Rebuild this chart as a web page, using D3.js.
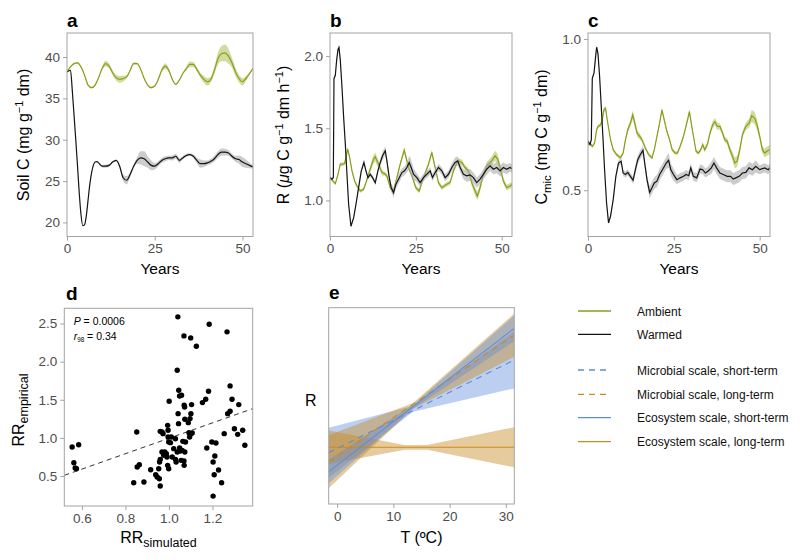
<!DOCTYPE html>
<html><head><meta charset="utf-8">
<script src="https://cdn.jsdelivr.net/npm/d3@7"></script>
<style>body{margin:0;background:#fff}</style>
</head><body>
<svg id="c" width="800" height="560" xmlns="http://www.w3.org/2000/svg"></svg>
<script>
// ---------- DATA ----------
// Panel a: Soil C
const yearsA = [0,1,2,3,4,5,6,7,8,9,10,11,12,13,14,15,16,17,18,19,20,21,22,23,24,25,26,27,28,29,30,31,32,33,34,35,36,37,38,39,40,41,42,43,44,45,46,47,48,49,50,51,52,53];
const ambientA = [38.2,38.8,39.2,39.3,38.8,37.8,36.6,36.3,36.6,37.5,38.6,39.2,38.9,38.1,37.5,37.3,37.4,37.6,38.4,39.2,39.2,38.5,37.4,36.6,36.3,36.5,37.3,38.4,38.9,38.4,37.3,36.7,37.2,38.0,38.6,39.1,39.1,38.5,37.8,37.3,37.0,37.3,38.4,39.8,40.4,40.5,40.1,39.3,38.2,37.4,37.0,37.4,38.0,38.6];
const ambientBandA = [0.1,0.1,0.1,0.1,0.1,0.1,0.1,0.1,0.1,0.1,0.2,0.35,0.3,0.3,0.35,0.4,0.35,0.2,0.1,0.15,0.1,0.1,0.1,0.1,0.1,0.1,0.1,0.25,0.35,0.25,0.15,0.1,0.1,0.1,0.2,0.35,0.3,0.25,0.3,0.4,0.45,0.35,0.4,0.7,0.9,1.0,0.9,0.6,0.5,0.45,0.45,0.3,0.15,0.1];
const warmedYearsA = [0,1,1.5,2,2.5,3,3.5,4,4.5,5,5.5,6,6.5,7,7.5,8,8.5,9,10,11,12,13,14,15,16,17,18,19,20,21,22,23,24,25,26,27,28,29,30,31,32,33,34,35,36,37,38,39,40,41,42,43,44,45,46,47,48,49,50,51,52,53];
const warmedA = [38.2,38.4,36.0,33.0,30.0,26.8,23.5,20.9,19.6,19.7,20.8,22.7,24.6,26.0,26.9,27.3,27.35,27.2,26.8,26.8,26.9,27.3,27.5,26.8,25.4,25.1,25.8,26.8,27.5,27.8,27.7,27.3,26.9,26.8,27.1,27.5,27.7,27.8,27.8,28.0,27.5,27.8,28.1,28.2,28.0,27.5,27.1,27.1,27.2,27.4,27.7,28.2,28.5,28.5,28.4,28.0,27.7,27.6,27.3,27.1,26.9,26.7];
const warmedBandA = [0.05,0.05,0.05,0.05,0.05,0.05,0.05,0.05,0.05,0.05,0.05,0.05,0.05,0.05,0.05,0.05,0.05,0.05,0.15,0.2,0.15,0.1,0.1,0.2,0.4,0.5,0.3,0.2,0.4,0.8,0.9,0.7,0.6,0.4,0.3,0.3,0.3,0.25,0.3,0.3,0.3,0.2,0.2,0.15,0.2,0.35,0.5,0.4,0.3,0.3,0.35,0.4,0.45,0.4,0.35,0.3,0.35,0.5,0.6,0.5,0.35,0.2];

// Panel b: R
const ambientYearsB = [0,0.78,1.55,2.33,3.0,3.68,4.26,5.14,5.72,6.4,7.17,7.85,8.82,9.79,10.47,11.24,12.02,12.69,13.18,13.66,14.15,15.12,15.89,16.57,17.54,18.5,19.48,20.45,21.61,22.87,24.03,25.0,25.97,27.23,28.68,29.65,30.62,31.59,32.56,34.01,34.98,35.95,37.21,38.37,39.34,40.31,41.28,42.25,42.93,43.7,44.67,45.64,47.09,48.06,48.84,49.52,50.48,51.45,52.42,53];
const ambientB = [1.158,1.135,1.116,1.181,1.251,1.251,1.256,1.356,1.298,1.205,1.135,1.100,1.065,1.077,1.123,1.181,1.240,1.286,1.302,1.274,1.251,1.193,1.186,1.170,1.088,1.065,1.158,1.251,1.349,1.228,1.158,1.088,1.065,1.158,1.251,1.333,1.228,1.123,1.088,1.112,1.123,1.205,1.274,1.263,1.228,1.205,1.123,1.065,1.030,1.088,1.181,1.240,1.274,1.309,1.286,1.228,1.135,1.088,1.100,1.110];
const ambientBandB = [0.01,0.01,0.01,0.01,0.012,0.012,0.012,0.015,0.012,0.012,0.012,0.012,0.012,0.012,0.015,0.02,0.025,0.03,0.03,0.03,0.025,0.02,0.015,0.015,0.015,0.015,0.015,0.015,0.02,0.015,0.015,0.015,0.015,0.015,0.015,0.02,0.015,0.015,0.015,0.015,0.015,0.015,0.02,0.02,0.015,0.02,0.025,0.03,0.03,0.025,0.02,0.025,0.03,0.035,0.035,0.025,0.02,0.02,0.02,0.02];
const warmedYearsB = [0,0.58,0.97,1.16,1.55,1.94,2.33,2.62,3.0,3.49,3.97,4.46,4.94,5.43,6.10,6.88,7.56,8.33,9.11,9.88,10.47,11.05,11.72,12.4,13.18,13.95,14.63,15.31,16.09,16.57,17.25,17.83,18.5,19.19,19.96,20.93,21.7,22.38,23.06,23.64,24.32,25.29,26.26,27.23,28.2,29.17,29.84,30.62,31.59,32.56,33.53,34.5,35.47,36.43,37.2,37.89,38.86,39.83,40.79,41.76,42.73,43.7,44.67,45.64,46.61,47.58,48.55,49.52,50.48,51.45,52.42,53];
const warmedB = [1.158,1.147,1.158,1.844,1.867,1.972,2.047,2.06,1.972,1.786,1.577,1.391,1.181,0.972,0.821,0.879,0.972,1.088,1.205,1.263,1.205,1.158,1.181,1.158,1.123,1.205,1.263,1.309,1.344,1.274,1.158,1.088,1.053,1.112,1.147,1.193,1.205,1.228,1.263,1.228,1.181,1.158,1.123,1.158,1.181,1.205,1.158,1.193,1.228,1.205,1.158,1.181,1.228,1.263,1.274,1.228,1.181,1.170,1.177,1.158,1.123,1.147,1.181,1.216,1.240,1.216,1.228,1.205,1.228,1.216,1.228,1.22];
const warmedBandB = [0.008,0.008,0.008,0.01,0.01,0.015,0.02,0.02,0.015,0.01,0.01,0.01,0.01,0.01,0.01,0.01,0.01,0.015,0.015,0.02,0.015,0.015,0.015,0.015,0.015,0.02,0.025,0.03,0.03,0.025,0.025,0.03,0.035,0.03,0.03,0.03,0.03,0.035,0.045,0.055,0.04,0.03,0.03,0.025,0.025,0.025,0.025,0.025,0.025,0.025,0.025,0.025,0.03,0.035,0.03,0.03,0.035,0.04,0.04,0.035,0.035,0.035,0.035,0.04,0.035,0.035,0.04,0.04,0.035,0.035,0.03,0.03];

// Panel c: Cmic
const ambientYearsC = [0,0.58,1.25,1.93,2.51,2.90,3.67,4.15,4.63,5.12,5.60,6.08,6.56,7.34,8.30,9.46,10.23,10.91,11.58,12.36,13.03,13.51,14.29,15.06,15.73,16.70,17.66,18.63,19.31,20.08,20.85,21.53,22.2,22.97,23.75,24.52,25.39,26.06,26.83,27.8,28.76,29.54,30.21,30.89,31.47,32.14,32.82,33.40,33.98,34.75,35.52,36.29,36.97,37.64,38.42,39.19,39.86,40.54,41.31,42.08,42.76,43.44,44.21,44.98,45.95,46.91,47.68,48.55,49.23,50.0,50.77,51.45,52.12,53];
const ambientC = [0.651,0.656,0.645,0.656,0.700,0.711,0.716,0.733,0.766,0.771,0.733,0.700,0.667,0.634,0.618,0.607,0.623,0.667,0.700,0.722,0.749,0.727,0.689,0.678,0.667,0.640,0.618,0.607,0.634,0.678,0.722,0.766,0.733,0.695,0.667,0.634,0.623,0.623,0.645,0.678,0.722,0.760,0.711,0.667,0.629,0.623,0.634,0.651,0.634,0.651,0.689,0.716,0.727,0.711,0.711,0.689,0.667,0.662,0.634,0.612,0.590,0.596,0.634,0.684,0.711,0.722,0.746,0.738,0.716,0.678,0.634,0.623,0.629,0.635];
const ambientBandC = [0.005,0.005,0.005,0.005,0.006,0.006,0.006,0.008,0.008,0.008,0.006,0.006,0.006,0.006,0.006,0.006,0.006,0.008,0.01,0.012,0.015,0.015,0.012,0.01,0.008,0.006,0.006,0.006,0.006,0.006,0.008,0.008,0.008,0.006,0.006,0.006,0.006,0.006,0.006,0.008,0.008,0.01,0.008,0.006,0.006,0.006,0.006,0.008,0.008,0.008,0.01,0.012,0.012,0.012,0.01,0.01,0.01,0.01,0.012,0.015,0.018,0.018,0.012,0.01,0.012,0.015,0.02,0.02,0.018,0.012,0.012,0.015,0.015,0.015];
const warmedYearsC = [0,0.58,0.97,1.25,1.74,2.22,2.51,2.90,3.38,3.86,4.34,4.83,5.41,5.98,6.56,7.34,8.11,8.88,9.65,10.23,10.91,11.58,12.36,13.13,13.80,14.48,15.25,16.02,16.51,17.18,17.95,18.63,19.31,20.08,20.85,21.81,22.78,23.46,24.13,24.90,25.87,26.83,27.80,28.57,29.34,29.92,30.69,31.66,32.63,33.40,34.17,34.94,35.91,36.68,37.45,38.42,39.38,40.54,41.51,42.28,43.05,44.02,44.98,45.95,46.91,47.88,48.84,50.0,51.45,52.5,53];
const warmedC = [0.662,0.651,0.667,0.870,0.887,0.942,0.973,0.953,0.876,0.777,0.678,0.568,0.458,0.392,0.414,0.469,0.546,0.590,0.596,0.557,0.552,0.559,0.546,0.533,0.568,0.601,0.618,0.632,0.590,0.535,0.493,0.508,0.524,0.530,0.552,0.570,0.590,0.599,0.568,0.552,0.535,0.541,0.546,0.552,0.548,0.574,0.546,0.541,0.570,0.568,0.557,0.563,0.574,0.590,0.574,0.557,0.552,0.546,0.546,0.537,0.541,0.546,0.557,0.559,0.574,0.568,0.579,0.568,0.574,0.568,0.575];
const warmedBandC = [0.005,0.005,0.005,0.006,0.006,0.008,0.01,0.008,0.006,0.005,0.005,0.005,0.005,0.005,0.005,0.006,0.008,0.01,0.01,0.01,0.01,0.01,0.01,0.012,0.015,0.015,0.015,0.015,0.015,0.015,0.02,0.02,0.02,0.02,0.02,0.02,0.02,0.025,0.02,0.02,0.015,0.015,0.015,0.015,0.015,0.015,0.015,0.015,0.015,0.015,0.015,0.015,0.02,0.02,0.02,0.02,0.02,0.02,0.02,0.02,0.02,0.02,0.02,0.02,0.02,0.02,0.02,0.015,0.015,0.015,0.015];

// Panel d: scatter
const simX = [0.555,0.585,0.563,0.569,0.575,0.852,0.854,0.864,0.838,0.885,0.916,0.939,0.946,0.956,0.960,0.953,0.957,0.960,0.968,0.973,0.960,0.981,0.968,0.976,0.988,0.994,0.996,0.996,0.999,1.007,1.011,1.001,0.991,0.994,0.999,1.015,1.022,1.030,1.033,1.030,1.038,1.044,1.049,1.052,1.056,1.061,1.069,1.070,1.073,1.064,1.076,1.042,1.045,1.049,1.058,1.038,1.041,1.069,1.100,1.126,1.070,1.072,1.073,1.089,1.097,1.101,1.104,1.092,1.100,1.107,1.095,1.185,1.267,1.154,1.169,1.182,1.281,1.290,1.270,1.281,1.321,1.301,1.316,1.339,1.349,1.174,1.197,1.216,1.203,1.211,1.208,1.228,1.242,1.203,1.254];
const empY = [0.881,0.911,0.675,0.605,0.596,1.078,0.618,0.649,0.412,0.421,0.583,0.517,0.487,0.465,0.369,0.596,0.684,1.086,1.078,1.056,0.719,0.815,0.815,0.771,0.793,1.165,1.100,1.012,0.946,0.938,1.012,1.480,0.749,0.640,0.596,0.749,0.859,0.719,0.684,0.990,0.815,1.187,0.868,0.828,0.706,0.837,0.697,0.640,0.815,0.955,0.946,1.318,1.625,1.550,1.559,1.887,2.588,2.338,2.312,2.202,1.428,1.406,1.244,1.200,1.253,1.318,1.437,1.069,1.051,1.065,1.012,2.491,2.391,1.463,1.507,1.612,1.682,1.507,1.318,1.349,1.437,1.121,1.047,1.100,0.903,0.868,0.946,0.933,0.684,0.763,0.517,0.579,0.412,0.237,1.056];
const regIntercept = -0.015, regSlope = 1.01;

// Panel e: temperature response (relative R units)
const tempEnds = [-1.5, 31.5];
const microShortLine = [2.61, 7.34];
const microLongLine = [2.15, 8.61];
const ecoShortLine = [1.65, 8.95];
const ecoLongLine = [2.89, 2.89];
const bandT3 = [-1.5, 13.5, 31.5];
const microShortLo = [1.33, 4.70, 5.89], microShortHi = [3.89, 5.00, 8.79];
const microLongLo = [0.80, 4.85, 7.50], microLongHi = [3.50, 5.15, 9.71];
const ecoShortLo = [1.05, 4.85, 8.30], ecoShortHi = [2.25, 5.05, 9.60];
const ecoLongT = [-1.5, 12, 16, 31.5];
const ecoLongLo = [2.04, 2.77, 2.77, 1.87], ecoLongHi = [3.74, 3.01, 3.01, 3.91];

const legendLabels = ["Ambient","Warmed","Microbial scale, short-term","Microbial scale, long-term","Ecosystem scale, short-term","Ecosystem scale, long-term"];

// ---------- STYLE ----------
const FONT = "Arial, 'Liberation Sans', Helvetica, sans-serif";
const TICK_COL = "#4d4d4d", BOX_COL = "#a3a3a3";
const GREEN = "#8a9e1c", GREEN_BAND = "rgba(150,178,40,0.45)";
const BLACK = "#141414", GREY_BAND = "rgba(170,170,170,0.6)";
const BLUE = "#5a8ce0", ORANGE = "#cf8a18";
const BLUE_BAND = "rgba(95,140,222,0.42)", ORANGE_BAND = "rgba(200,140,40,0.45)";

const svg = d3.select("#c").attr("font-family", FONT);

function styleAxis(ax) {
  ax.attr("font-family", FONT).attr("font-size", 13.5);
  ax.select(".domain").remove();
  ax.selectAll(".tick line").attr("stroke", BOX_COL);
  ax.selectAll(".tick text").attr("fill", TICK_COL);
}

function panel(o) {
  const x = d3.scaleLinear().domain(o.xd).range([o.x0, o.x1]);
  const y = d3.scaleLinear().domain(o.yd).range([o.y1, o.y0]);
  const g = svg.append("g");
  const cid = "clip_" + o.name;
  svg.append("clipPath").attr("id", cid).append("rect")
    .attr("x", o.x0).attr("y", o.y0).attr("width", o.x1 - o.x0).attr("height", o.y1 - o.y0);
  const plot = g.append("g").attr("clip-path", `url(#${cid})`);
  if (o.yt) {
    const ax = g.append("g").attr("transform", `translate(${o.x0},0)`)
      .call(d3.axisLeft(y).tickValues(o.yt).tickFormat(o.yf).tickSize(4).tickPadding(3));
    styleAxis(ax);
  }
  const bx = g.append("g").attr("transform", `translate(0,${o.y1})`)
    .call(d3.axisBottom(x).tickValues(o.xt).tickFormat(o.xf).tickSize(4).tickPadding(3));
  styleAxis(bx);
  g.append("rect").attr("x", o.x0).attr("y", o.y0).attr("width", o.x1 - o.x0).attr("height", o.y1 - o.y0)
    .attr("fill", "none").attr("stroke", BOX_COL).attr("stroke-width", 1);
  g.append("text").attr("x", o.tx).attr("y", o.ty).attr("font-size", 19).attr("font-weight", "bold")
    .attr("fill", "#000").text(o.name);
  return { x, y, plot, g };
}

function rich(t, parts, base) {
  let cur = 0;
  parts.forEach(p => {
    const s = t.append("tspan").text(p[0]);
    const k = p[1] || "";
    let off = 0;
    if (k.includes("sup")) { off = -base * 0.4; s.attr("font-size", base * 0.68); }
    if (k.includes("sub")) { off = base * 0.28; s.attr("font-size", base * (p[2] || 0.75)); }
    if (k.includes("it")) s.attr("font-style", "italic");
    if (off !== cur) s.attr("dy", off - cur);
    cur = off;
  });
}

function yLabel(x, y, parts, size) {
  const t = svg.append("text").attr("transform", `translate(${x},${y}) rotate(-90)`)
    .attr("text-anchor", "middle").attr("font-size", size).attr("fill", "#000");
  rich(t, parts, size);
}
function xLabel(x, y, parts, size) {
  const t = svg.append("text").attr("x", x).attr("y", y)
    .attr("text-anchor", "middle").attr("font-size", size).attr("fill", "#000");
  rich(t, parts, size);
}

function zipSeries(ts, vs, bs) { return ts.map((t, i) => ({ t, v: vs[i], s: bs ? bs[i] : 0 })); }

function drawSeries(P, data, col, band, curve) {
  const area = d3.area().x(d => P.x(d.t)).y0(d => P.y(d.v - d.s)).y1(d => P.y(d.v + d.s)).curve(curve);
  const line = d3.line().x(d => P.x(d.t)).y(d => P.y(d.v)).curve(curve);
  P.plot.append("path").datum(data).attr("d", area).attr("fill", band).attr("stroke", "none");
  P.plot.append("path").datum(data).attr("d", line).attr("fill", "none").attr("stroke", col).attr("stroke-width", 1.2);
}

const fmt1 = d3.format(".1f"), fmt0 = d3.format("d");

// ---------- Panel a ----------
const A = panel({ name: "a", x0: 67, x1: 253, y0: 33, y1: 236.5, xd: [0, 53], yd: [18.3, 42.9],
  xt: [0, 25, 50], xf: fmt0, yt: [20, 25, 30, 35, 40], yf: fmt0, tx: 67, ty: 27 });
drawSeries(A, zipSeries(yearsA, ambientA, ambientBandA), GREEN, GREEN_BAND, d3.curveMonotoneX);
drawSeries(A, zipSeries(warmedYearsA, warmedA, warmedBandA), BLACK, GREY_BAND, d3.curveMonotoneX);
yLabel(29, 135, [["Soil C (mg g"], ["−1", "sup"], [" dm)"]], 16);
xLabel(160, 274, [["Years"]], 15.5);

// ---------- Panel b ----------
const B = panel({ name: "b", x0: 330, x1: 512, y0: 33, y1: 236.5, xd: [0, 53], yd: [0.75, 2.16],
  xt: [0, 25, 50], xf: fmt0, yt: [1.0, 1.5, 2.0], yf: fmt1, tx: 330, ty: 27 });
drawSeries(B, zipSeries(ambientYearsB, ambientB, ambientBandB), GREEN, GREEN_BAND, d3.curveLinear);
drawSeries(B, zipSeries(warmedYearsB, warmedB, warmedBandB), BLACK, GREY_BAND, d3.curveLinear);
yLabel(289, 135, [["R ("], ["μ", "it"], ["g C g"], ["−1", "sup"], [" dm h"], ["−1", "sup"], [")"]], 16);
xLabel(421, 274, [["Years"]], 15.5);

// ---------- Panel c ----------
const C = panel({ name: "c", x0: 588, x1: 770, y0: 33, y1: 236.5, xd: [0, 53], yd: [0.347, 1.02],
  xt: [0, 25, 50], xf: fmt0, yt: [0.5, 1.0], yf: fmt1, tx: 588, ty: 27 });
drawSeries(C, zipSeries(ambientYearsC, ambientC, ambientBandC), GREEN, GREEN_BAND, d3.curveLinear);
drawSeries(C, zipSeries(warmedYearsC, warmedC, warmedBandC), BLACK, GREY_BAND, d3.curveLinear);
yLabel(547, 137, [["C"], ["mic", "sub", 0.72], [" (mg C g"], ["−1", "sup"], [" dm)"]], 16);
xLabel(679, 274, [["Years"]], 15.5);

// ---------- Panel d ----------
const D = panel({ name: "d", x0: 64.3, x1: 252.7, y0: 308.3, y1: 506, xd: [0.519, 1.385], yd: [0.107, 2.70],
  xt: [0.6, 0.8, 1.0, 1.2], xf: fmt1, yt: [0.5, 1.0, 1.5, 2.0, 2.5], yf: fmt1, tx: 66, ty: 300 });
D.plot.append("line")
  .attr("x1", D.x(0.519)).attr("y1", D.y(regIntercept + regSlope * 0.519))
  .attr("x2", D.x(1.385)).attr("y2", D.y(regIntercept + regSlope * 1.385))
  .attr("stroke", "#333").attr("stroke-width", 1).attr("stroke-dasharray", "5,4");
D.plot.selectAll("circle.pt").data(simX.map((v, i) => [v, empY[i]])).join("circle")
  .attr("class", "pt").attr("cx", d => D.x(d[0])).attr("cy", d => D.y(d[1])).attr("r", 2.7).attr("fill", "#000");
{
  const t1 = svg.append("text").attr("x", 73.7).attr("y", 324.5).attr("font-size", 10.5).attr("fill", "#000");
  rich(t1, [["P", "it"], [" = 0.0006"]], 10.5);
  const t2 = svg.append("text").attr("x", 73.7).attr("y", 339.5).attr("font-size", 10.5).attr("fill", "#000");
  rich(t2, [["r", "it"], ["98", "sub", 0.6], [" = 0.34"]], 10.5);
}
yLabel(24, 410, [["RR"], ["empirical", "sub", 0.78]], 16);
xLabel(158.5, 543, [["RR"], ["simulated", "sub", 0.78]], 16);

// ---------- Panel e ----------
const E = panel({ name: "e", x0: 328.7, x1: 514.3, y0: 307.7, y1: 504, xd: [-1.5, 31.5], yd: [0, 10],
  xt: [0, 10, 20, 30], xf: fmt0, yt: null, tx: 329, ty: 299 });
function bandE(ts, lo, hi, fill) {
  const d = ts.map((t, i) => ({ t, lo: lo[i], hi: hi[i] }));
  E.plot.append("path").datum(d)
    .attr("d", d3.area().x(p => E.x(p.t)).y0(p => E.y(p.lo)).y1(p => E.y(p.hi)))
    .attr("fill", fill).attr("stroke", "none");
}
function lineE(vals, col, dash) {
  const d = tempEnds.map((t, i) => ({ t, v: vals[i] }));
  E.plot.append("path").datum(d)
    .attr("d", d3.line().x(p => E.x(p.t)).y(p => E.y(p.v)))
    .attr("fill", "none").attr("stroke", col).attr("stroke-width", 1.1)
    .attr("stroke-dasharray", dash || null);
}
bandE(bandT3, microShortLo, microShortHi, BLUE_BAND);
bandE(ecoLongT, ecoLongLo, ecoLongHi, ORANGE_BAND);
bandE(bandT3, microLongLo, microLongHi, ORANGE_BAND);
bandE(bandT3, ecoShortLo, ecoShortHi, BLUE_BAND);
lineE(ecoLongLine, ORANGE);
lineE(microLongLine, ORANGE, "6,5");
lineE(microShortLine, BLUE, "6,5");
lineE(ecoShortLine, BLUE);
svg.append("text").attr("x", 310.7).attr("y", 405.5).attr("text-anchor", "middle").attr("font-size", 16).text("R");
xLabel(421.5, 543, [["T (ºC)"]], 16);

// ---------- Legend ----------
const legY = [311, 334.3, 370, 394.3, 417.7, 441.7];
const legCol = [GREEN, BLACK, BLUE, ORANGE, BLUE, ORANGE];
const legDash = [null, null, "6,5", "6,5", null, null];
const leg = svg.append("g");
legendLabels.forEach((lab, i) => {
  leg.append("line").attr("x1", 578).attr("x2", 611).attr("y1", legY[i]).attr("y2", legY[i])
    .attr("stroke", legCol[i]).attr("stroke-width", 1.3).attr("stroke-dasharray", legDash[i]);
  leg.append("text").attr("x", 637).attr("y", legY[i] + 4.5).attr("font-size", 12).attr("fill", "#111").text(lab);
});
</script>
</body></html>
